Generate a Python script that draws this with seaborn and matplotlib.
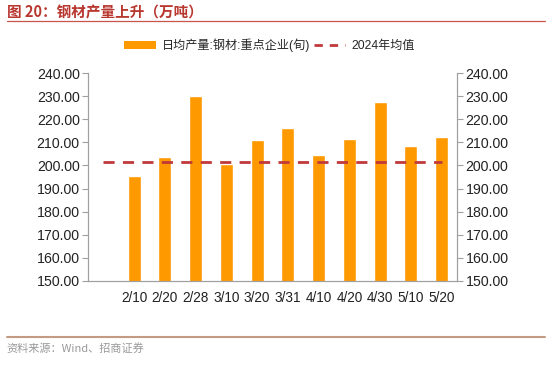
import numpy as np
import pandas as pd
import matplotlib
matplotlib.use("Agg")
import matplotlib.pyplot as plt
import seaborn as sns
from matplotlib.patches import Patch
from matplotlib.lines import Line2D

sns.set_theme(style="white")
plt.rcParams["font.family"] = ["Liberation Sans", "Noto Sans CJK SC", "DejaVu Sans"]

categories = ["", "2/10", "2/20", "2/28", "3/10", "3/20", "3/31", "4/10", "4/20", "4/30", "5/10", "5/20"]
output = [np.nan, 195.6, 203.6, 230.0, 200.8, 211.2, 216.0, 204.6, 211.4, 227.3, 208.3, 212.4]
avg_2024 = 201.7

bar_color = "#FF9900"
line_color = "#C0393B"
spine_color = "#A0A0A0"

data = pd.DataFrame({"date": categories, "output": output})

fig = plt.figure(figsize=(5.5, 3.9), dpi=100)
ax = fig.add_axes([0.16, 0.2795, 0.671, 0.5333])

sns.barplot(data=data, x="date", y="output", color=bar_color, width=0.42,
            saturation=1, ax=ax, zorder=2)
ax.plot(np.arange(len(categories)), [avg_2024] * len(categories), color=line_color,
        linestyle=(0, (4, 3)), linewidth=2, zorder=3)

ax.set_xlim(-0.5, len(categories) - 0.5)
ax.set_ylim(150, 240)
ax.set_yticks(np.arange(150, 241, 10))
ax.yaxis.set_major_formatter(matplotlib.ticker.FormatStrFormatter("%.2f"))
ax.set_xlabel("")
ax.set_ylabel("")

ax.set_xticks(np.arange(0.5, len(categories) - 1, 1), minor=True)
ax.tick_params(axis="x", which="major", length=0, labelsize=9.8, colors="#222222", pad=7)
ax.tick_params(axis="x", which="minor", length=4, color=spine_color, width=0.8, direction="out")
ax.tick_params(axis="y", left=True, length=4, color=spine_color, width=0.8,
               labelsize=10.2, labelcolor="#222222", pad=2)

ax2 = ax.twinx()
ax2.set_ylim(150, 240)
ax2.set_yticks(np.arange(150, 241, 10))
ax2.yaxis.set_major_formatter(matplotlib.ticker.FormatStrFormatter("%.2f"))
ax2.tick_params(axis="y", right=True, length=4, color=spine_color, width=0.8,
                labelsize=10.2, labelcolor="#222222", pad=2)

for a in (ax, ax2):
    for s in ["left", "right", "bottom"]:
        a.spines[s].set_color(spine_color)
        a.spines[s].set_linewidth(0.8)
    a.spines["top"].set_visible(False)
    a.grid(False)

handles = [Patch(facecolor=bar_color, edgecolor="none"),
           Line2D([0], [0], color=line_color, linestyle=(0, (3, 2.5)), linewidth=2)]
labels = ["日均产量:钢材:重点企业(旬)", "2024年均值"]
fig.legend(handles, labels, loc="center", bbox_to_anchor=(0.49, 0.884), ncol=2,
           frameon=False, handlelength=2.6, handleheight=0.6,
           columnspacing=0.3, handletextpad=0.5,
           prop={"family": ["Liberation Sans", "Noto Sans CJK SC"], "size": 8.7})

fig.text(0.012, 0.968, "图 20：钢材产量上升（万吨）", fontsize=10.5, fontweight="bold",
         color="#B8372F", va="center", ha="left", family=["Noto Sans CJK SC"])
fig.add_artist(Line2D([0.012, 0.99], [0.947, 0.947], color="#C8554A", linewidth=0.9))
fig.add_artist(Line2D([0.012, 0.99], [0.136, 0.136], color="#C49A82", linewidth=1.5))
fig.text(0.012, 0.107, "资料来源：Wind、招商证券", fontsize=8, color="#999999",
         va="center", ha="left", family=["Noto Sans CJK SC", "Liberation Sans"])

fig.savefig("out.png", dpi=100)
